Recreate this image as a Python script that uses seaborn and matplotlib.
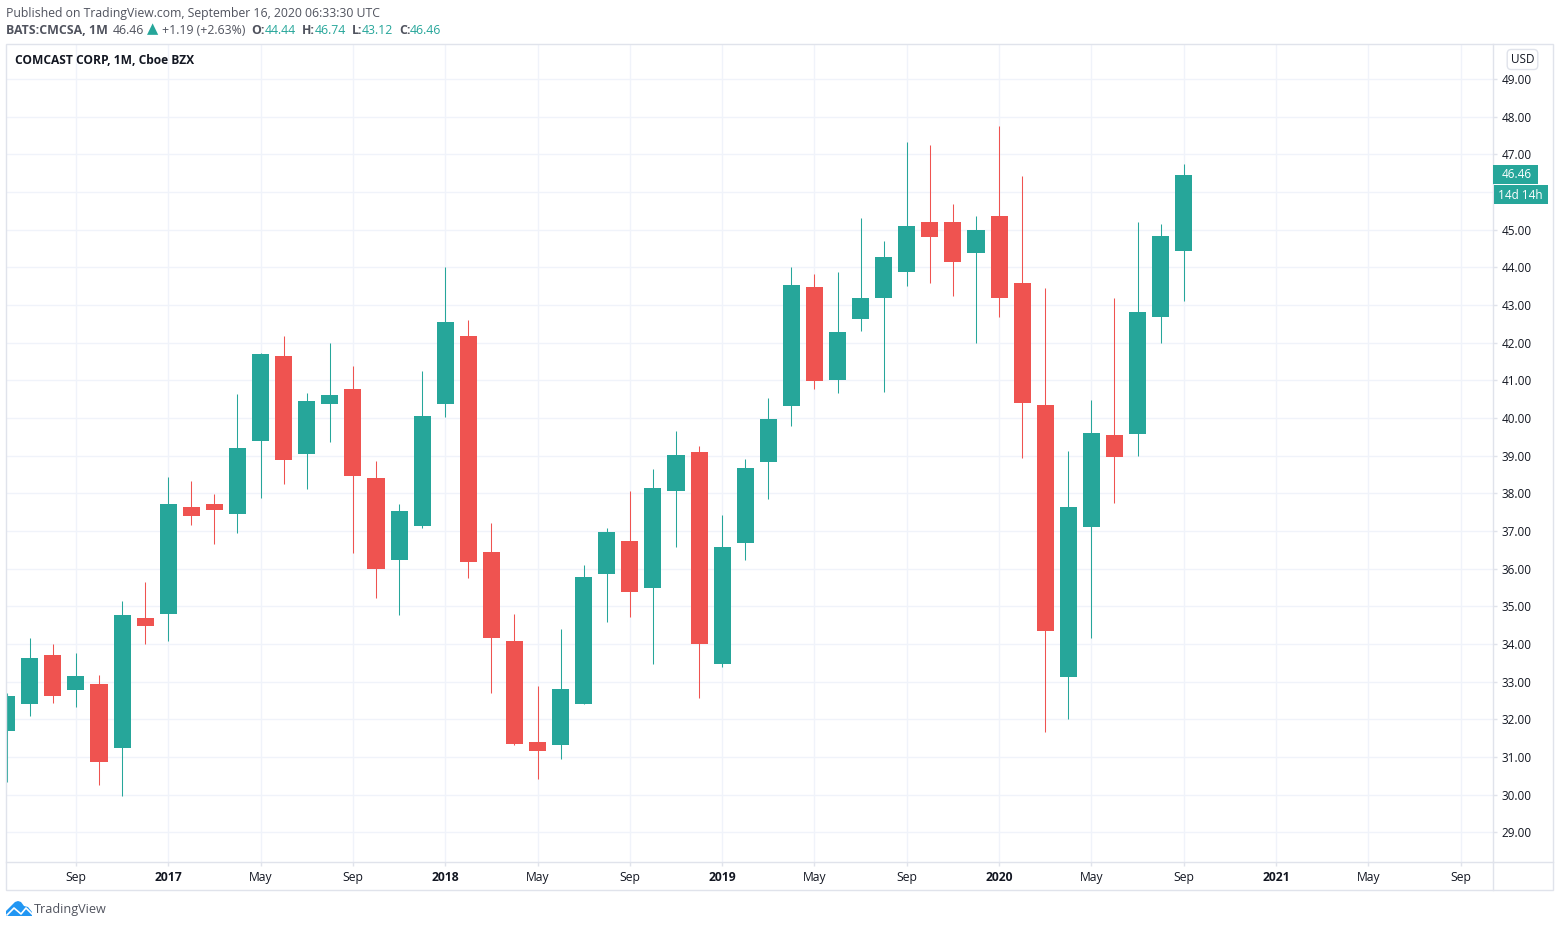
# データ前処理
import numpy as np
import pandas as pd

# データ可視化
import matplotlib.pyplot as plt
import seaborn as sns
plt.style.use("ggplot")

# グラフの日本語表記対応
from matplotlib import rcParams
rcParams["font.family"]     = ["Open Sans", "DejaVu Sans"]
rcParams["axes.facecolor"]  = "white"
rcParams["figure.facecolor"] = "white"

# 色
GREEN = "#26a69a"
RED   = "#ef5350"
LINE  = "#e0e3eb"
GRID  = "#f0f3fa"
TEXT  = "#131722"

# データセット（月足：始値, 高値, 安値, 終値）
ohlc = [
    (31.70, 32.70, 30.33, 32.61), (32.42, 34.17, 32.10, 33.62), (33.70, 34.00, 32.45, 32.61),
    (32.77, 33.77, 32.34, 33.16), (32.95, 33.19, 30.27, 30.88), (31.23, 35.15, 29.98, 34.76),
    (34.70, 35.66, 34.01, 34.49), (34.81, 38.44, 34.09, 37.73), (37.65, 38.34, 37.17, 37.41),
    (37.73, 37.99, 36.67, 37.57), (37.46, 40.64, 36.96, 39.21), (39.40, 41.73, 37.89, 41.71),
    (41.65, 42.18, 38.26, 38.89), (39.05, 40.67, 38.12, 40.46), (40.38, 42.00, 39.37, 40.62),
    (40.78, 41.39, 36.43, 38.47), (38.42, 38.87, 35.23, 36.00), (36.24, 37.73, 34.76, 37.54),
    (37.14, 41.25, 37.09, 40.06), (40.38, 44.01, 40.03, 42.55), (42.18, 42.60, 35.76, 36.19),
    (36.45, 37.22, 32.71, 34.15), (34.09, 34.81, 31.31, 31.36), (31.39, 32.90, 30.41, 31.15),
    (31.31, 34.41, 30.94, 32.82), (32.42, 36.11, 32.40, 35.79), (35.87, 37.09, 34.60, 36.98),
    (36.75, 38.07, 34.73, 35.39), (35.50, 38.66, 33.48, 38.15), (38.07, 39.66, 36.59, 39.03),
    (39.11, 39.27, 32.58, 34.01), (33.46, 37.44, 33.40, 36.59), (36.69, 38.92, 36.24, 38.68),
    (38.84, 40.54, 37.86, 39.98), (40.33, 44.01, 39.80, 43.54), (43.48, 43.83, 40.78, 40.99),
    (41.02, 43.88, 40.67, 42.29), (42.63, 45.31, 42.32, 43.19), (43.19, 44.70, 40.70, 44.28),
    (43.88, 47.33, 43.51, 45.10), (45.21, 47.25, 43.59, 44.81), (45.21, 45.68, 43.24, 44.15),
    (44.38, 45.37, 42.00, 44.99), (45.37, 47.75, 42.69, 43.19), (43.59, 46.43, 38.95, 40.41),
    (40.35, 43.46, 31.68, 34.36), (33.14, 39.13, 32.02, 37.65), (37.12, 40.49, 34.15, 39.61),
    (39.56, 43.19, 37.75, 38.97), (39.58, 45.21, 39.00, 42.82), (42.69, 45.15, 42.00, 44.84),
    (44.44, 46.74, 43.12, 46.46),
]

# DataFrame作成
df = pd.DataFrame(ohlc, columns=["open", "high", "low", "close"])
df["month"] = np.arange(len(df))  # 2016年6月 = 0
df["up"] = df["close"] >= df["open"]

# 目盛（2016年9月から4か月ごと）
month_ticks  = np.arange(3, 64, 4)
month_labels = ["Sep", "2017", "May", "Sep", "2018", "May", "Sep", "2019", "May", "Sep",
                "2020", "May", "Sep", "2021", "May", "Sep"]


""" グラフ可視化 """
fig = plt.figure(figsize=(15.6, 9.27), dpi=100)
ax = fig.add_axes([6 / 1560, 1 - 861.5 / 927, 1487 / 1560, 817.5 / 927])

# ヒゲと実体
for up, color in [(True, GREEN), (False, RED)]:
    part = df[df["up"] == up]
    ax.vlines(part["month"], part["low"], part["high"], color=color, linewidth=0.75, zorder=3)
    sns.barplot(x=part["month"], y=(part["close"] - part["open"]).abs(),
                bottom=part[["open", "close"]].min(axis=1).to_numpy(),
                native_scale=True, width=0.74, color=color, saturation=1, errorbar=None,
                linewidth=0, ax=ax, zorder=4)

# グラフの書式設定
ax.set_xlim(-0.03, 64.40)
ax.set_ylim(28.23, 49.93)
ax.set_xlabel("")
ax.set_ylabel("")
ax.set_xticks(month_ticks)
ax.set_xticklabels(month_labels)
ax.set_yticks(np.arange(29, 50))
ax.set_yticklabels(["" if v == 46 else "%.2f" % v for v in np.arange(29, 50)])  # 46.00は現在値ラベルの下に隠れる
ax.yaxis.tick_right()
ax.grid(True, color=GRID, linewidth=1)
ax.set_axisbelow(True)
ax.tick_params(axis="x", length=3, width=1, color=LINE, labelsize=8.7, labelcolor=TEXT, pad=3.9)
ax.tick_params(axis="y", length=3, width=1, color=LINE, labelsize=8.5, labelcolor=TEXT, pad=3.2)
for label in ax.get_xticklabels():
    if label.get_text().startswith("20"):
        label.set_fontweight("bold")
for side in ax.spines:
    ax.spines[side].set_visible(side in ("bottom", "right"))
    ax.spines[side].set_color(LINE)
    ax.spines[side].set_linewidth(1)

# 外枠
fig.add_artist(plt.Rectangle((6 / 1560, 1 - 890 / 927), 1547 / 1560, 846 / 927, fill=False,
                             edgecolor=LINE, linewidth=1, transform=fig.transFigure))
fig.add_artist(plt.Line2D([1493 / 1560] * 2, [1 - 862 / 927, 1 - 890 / 927], color=LINE, linewidth=1))
fig.add_artist(plt.Line2D([1493 / 1560, 1553 / 1560], [1 - 861.5 / 927] * 2, color=LINE, linewidth=1))

# 現在値ラベル
fig.add_artist(plt.Rectangle((1493 / 1560, 1 - 183.5 / 927), 45 / 1560, 19 / 927, color=GREEN,
                             linewidth=0, transform=fig.transFigure))
fig.add_artist(plt.Rectangle((1494 / 1560, 1 - 204 / 927), 54 / 1560, 19 / 927, color=GREEN,
                             linewidth=0, transform=fig.transFigure))
fig.text(1502 / 1560, 1 - 175 / 927, "%.2f" % df["close"].iloc[-1], color="white", fontsize=8.5, va="center")
fig.text(1498 / 1560, 1 - 195.5 / 927, "14d 14h", color="white", fontsize=8.5, va="center")

# USDボタン
ax.annotate("USD", xy=(1522.5 / 1560, 1 - 59.5 / 927), xycoords="figure fraction", ha="center", va="center",
            fontsize=8.5, color=TEXT, annotation_clip=False,
            bbox=dict(boxstyle="round,pad=0.3,rounding_size=0.35", facecolor="white", edgecolor=LINE, linewidth=1))

# 見出し
texts = [
    (6,   13, "Published on TradingView.com, September 16, 2020 06:33:30 UTC", "normal", "#50535e", 8.8),
    (6,   30.5, "BATS:CMCSA, 1M", "bold", "#50535e", 8.95),
    (113, 30.5, "46.46", "normal", "#50535e", 8.8),
    (146.5, 29.5, "▲", "normal", GREEN, 10.5),
    (162, 30.5, "+1.19 (+2.63%)", "normal", "#50535e", 8.8),
    (251, 30.5, "O:", "bold", "#50535e", 8.8),
    (265, 30.5, "44.44", "normal", GREEN, 8.8),
    (302, 30.5, "H:", "bold", "#50535e", 8.8),
    (315, 30.5, "46.74", "normal", GREEN, 8.8),
    (352, 30.5, "L:", "bold", "#50535e", 8.8),
    (362, 30.5, "43.12", "normal", GREEN, 8.8),
    (399, 30.5, "C:", "bold", "#50535e", 8.8),
    (410, 30.5, "46.46", "normal", GREEN, 8.8),
    (15,  61, "COMCAST CORP, 1M, Cboe BZX", "bold", TEXT, 8.65),
    (34,  909.5, "TradingView", "normal", "#50535e", 9.1),
]
for x, y, s, weight, color, size in texts:
    fig.text(x / 1560, 1 - y / 927, s, fontweight=weight, color=color, fontsize=size, va="center")

# ロゴ
logo = np.array([[6, 916], [6, 911], [12, 905], [15, 902], [18, 901], [21, 902], [24, 906], [28, 907], [32, 912], [32, 916]])
fig.add_artist(plt.Polygon(np.c_[logo[:, 0] / 1560, 1 - logo[:, 1] / 927], color="#2196f3", linewidth=0,
                           transform=fig.transFigure))
zig = np.array([[7, 915], [14, 908], [21, 914], [26, 908], [32, 914]])
fig.add_artist(plt.Line2D(zig[:, 0] / 1560, 1 - zig[:, 1] / 927, color="white", linewidth=1.2))

fig.savefig("out.png", dpi=100)
